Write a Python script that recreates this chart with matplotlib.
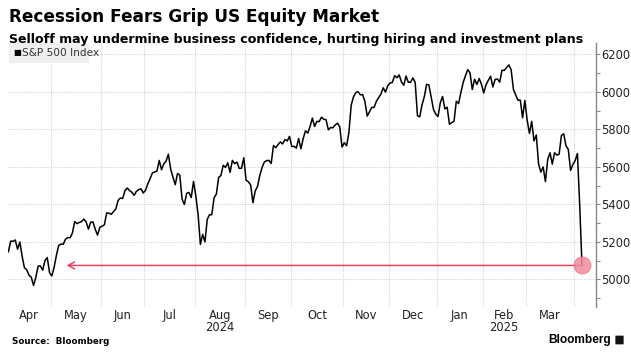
import numpy as np
import pandas as pd
import matplotlib
matplotlib.use("Agg")
import matplotlib.pyplot as plt
from matplotlib.patches import Rectangle, FancyBboxPatch

# S&P 500 daily closes, 4 Apr 2024 - 4 Apr 2025
apr_24 = [5147.21, 5204.34, 5202.39, 5209.91, 5160.64, 5199.06, 5123.41, 5061.82, 5051.41, 5022.21,
          5011.12, 4967.23, 5010.60, 5070.55, 5071.63, 5048.42, 5099.96, 5116.17, 5035.69]
may_24 = [5018.39, 5064.20, 5127.79, 5180.74, 5187.70, 5187.67, 5214.08, 5222.68, 5221.42, 5246.68, 5308.15,
          5297.10, 5303.27, 5308.13, 5321.41, 5307.01, 5267.84, 5304.72, 5306.04, 5266.95, 5235.48, 5277.51]
jun_24 = [5283.40, 5291.34, 5354.03, 5352.96, 5346.99, 5360.79, 5375.32, 5421.03, 5433.74, 5431.60,
          5473.23, 5487.03, 5473.17, 5464.62, 5447.87, 5469.30, 5477.90, 5482.87, 5460.48]
jul_24 = [5475.09, 5509.01, 5537.02, 5567.19, 5572.85, 5576.98, 5633.91, 5584.54, 5615.35, 5631.22, 5667.20,
          5588.27, 5544.59, 5505.00, 5564.41, 5555.74, 5427.13, 5399.22, 5459.10, 5463.54, 5436.44, 5522.30]
aug_24 = [5446.68, 5346.56, 5186.33, 5240.03, 5199.50, 5319.31, 5344.16, 5344.39, 5434.43, 5455.21, 5543.22,
          5554.25, 5608.25, 5597.12, 5620.85, 5570.64, 5634.61, 5616.84, 5625.80, 5592.18, 5591.96, 5648.40]
sep_24 = [5528.93, 5520.07, 5503.41, 5408.42, 5471.05, 5495.52, 5554.13, 5595.76, 5626.02, 5633.09,
          5634.58, 5618.26, 5713.64, 5702.55, 5718.57, 5732.93, 5722.26, 5745.37, 5738.17, 5762.48]
oct_24 = [5708.75, 5709.54, 5699.94, 5751.07, 5695.94, 5751.13, 5792.04, 5780.05, 5815.03, 5859.85, 5815.26,
          5842.47, 5841.47, 5864.67, 5853.98, 5851.20, 5797.42, 5809.86, 5808.12, 5823.52, 5832.92, 5813.67,
          5705.45]
nov_24 = [5728.80, 5712.69, 5782.76, 5929.04, 5973.10, 5995.54, 6001.35, 5983.99, 5985.38, 5949.17,
          5870.62, 5893.62, 5916.98, 5917.11, 5948.71, 5969.34, 5987.37, 6021.63, 5998.74, 6032.38]
dec_24 = [6047.15, 6049.88, 6086.49, 6075.11, 6090.27, 6052.85, 6034.91, 6084.19, 6051.25, 6051.09, 6074.08,
          6050.61, 5872.16, 5867.08, 5930.85, 5974.07, 6040.04, 6037.59, 5970.84, 5906.94, 5881.63]
jan_25 = [5868.55, 5942.47, 5975.38, 5909.03, 5918.25, 5827.04, 5836.22, 5842.91, 5949.91, 5937.34,
          5996.66, 6049.24, 6086.37, 6118.71, 6101.24, 6012.28, 6067.70, 6039.31, 6071.17, 6040.53]
feb_25 = [5994.57, 6037.88, 6061.48, 6083.57, 6025.99, 6066.44, 6068.50, 6051.97, 6115.07, 6114.63,
          6129.58, 6144.15, 6117.52, 6013.13, 5983.25, 5955.25, 5956.06, 5861.57, 5954.50]
mar_25 = [5849.72, 5778.15, 5842.63, 5738.52, 5770.20, 5614.56, 5572.07, 5599.30, 5521.52, 5638.94, 5675.12,
          5614.66, 5675.29, 5662.89, 5667.56, 5767.57, 5776.65, 5712.20, 5693.31, 5580.94, 5611.85]
apr_25 = [5633.07, 5670.97, 5396.52, 5074.08]

holidays = ["2024-05-27", "2024-06-19", "2024-07-04", "2024-09-02", "2024-11-28", "2024-12-25",
            "2025-01-01", "2025-01-09", "2025-01-20", "2025-02-17"]

closes = np.array(apr_24 + may_24 + jun_24 + jul_24 + aug_24 + sep_24 + oct_24 + nov_24
                  + dec_24 + jan_25 + feb_25 + mar_25 + apr_25)
dates = pd.bdate_range("2024-04-04", "2025-04-04", freq="C", holidays=holidays)

yticks = [5000, 5200, 5400, 5600, 5800, 6000, 6200]

W, H = 631, 356
fig = plt.figure(figsize=(W / 100, H / 100), dpi=100)
ax = fig.add_axes([7.5 / W, 1 - 306.7 / H, (595.7 - 7.5) / W, (306.7 - 43.3) / H])

x = np.arange(len(closes))
ax.plot(x, closes, color="black", lw=1.1, zorder=3)

ax.set_xlim(-0.4, 257)
ax.set_ylim(4854, 6259)

# month boundaries on a trading-day axis
month_id = dates.year * 12 + dates.month
starts = [0] + [i for i in range(1, len(dates)) if month_id[i] != month_id[i - 1]]
bounds = [s - 0.5 for s in starts[1:]]
for b in bounds:
    ax.axvline(b, color="#d6d6d6", lw=0.8, ls=(0, (1, 1)), zorder=1)
for yt in yticks:
    ax.axhline(yt, color="#d6d6d6", lw=0.8, ls=(0, (1, 1)), zorder=1)

edges = [-0.4] + bounds
tick_font = ["Liberation Sans Narrow", "DejaVu Sans"]
for i in range(len(edges) - 1):
    mid = (edges[i] + edges[i + 1]) / 2
    d = dates[starts[i]]
    ax.text(mid, -0.008, d.strftime("%b"), transform=ax.get_xaxis_transform(),
            ha="center", va="top", fontsize=8.3, family=tick_font, color="#222222")
    if d.month == 8 and d.year == 2024 or d.month == 2 and d.year == 2025:
        ax.text(mid, -0.053, str(d.year), transform=ax.get_xaxis_transform(),
                ha="center", va="top", fontsize=8.3, family=tick_font, color="#222222")

ax.set_xticks([])
ax.yaxis.tick_right()
ax.set_yticks(yticks)
ax.set_yticklabels([str(v) for v in yticks], fontsize=8.3, family=tick_font, color="#222222")
ax.set_yticks(np.arange(4900, 6300, 100), minor=True)
ax.tick_params(axis="y", which="both", direction="out", length=3, width=0.8, color="#888888", pad=1)
for s in ["top", "left", "bottom"]:
    ax.spines[s].set_visible(False)
ax.spines["right"].set_color("#888888")
ax.spines["right"].set_linewidth(1.0)

# arrow back to last time the index was this low
last_i = len(closes) - 1
last_v = closes[-1]
prior = np.where(closes[:last_i] < last_v)[0][-1]
ax.annotate("", xy=(prior + 5.5, last_v), xytext=(last_i, last_v),
            arrowprops=dict(arrowstyle="->,head_length=0.45,head_width=0.25", color="#e8435e", lw=1.1,
                            shrinkA=0, shrinkB=0), zorder=4)
ax.scatter([last_i], [last_v], s=150, facecolor="#f28c9e", edgecolor="#ec6f86", lw=0.6, alpha=0.85, zorder=5)

# legend box
ax.add_patch(Rectangle((9 / W, 1 - 62.7 / H), 80 / W, 19.4 / H, transform=fig.transFigure,
                       facecolor="#efefef", edgecolor="none", zorder=6))
fig.text(13.5 / W, 1 - 53 / H, "\u25a0", fontsize=6, va="center", ha="left", family="DejaVu Sans")
fig.text(21.5 / W, 1 - 53 / H, "S&P 500 Index", fontsize=7.6, va="center", ha="left",
         family=tick_font, color="#333333")

fig.text(9 / W, 1 - 22 / H, "Recession Fears Grip US Equity Market", fontsize=12.2,
         fontweight="bold", va="baseline", ha="left", family="DejaVu Sans")
fig.text(9 / W, 1 - 42.5 / H, "Selloff may undermine business confidence, hurting hiring and investment plans",
         fontsize=9.1, fontweight="bold", va="baseline", ha="left", family="DejaVu Sans")
fig.text(12 / W, 1 - 341 / H, "Source:  Bloomberg", fontsize=6.3, fontweight="bold", va="center",
         ha="left", family="DejaVu Sans")
fig.text(611 / W, 1 - 340 / H, "Bloomberg", fontsize=8.6, fontweight="bold", va="center", ha="right",
         family=["Liberation Sans", "DejaVu Sans"])
fig.patches.append(FancyBboxPatch((616 / W, 1 - 344 / H), 7 / W, 8 / H, boxstyle="round,pad=0.001",
                                  transform=fig.transFigure, facecolor="#111111", edgecolor="none"))

fig.savefig("out.png", dpi=100, facecolor="white")
